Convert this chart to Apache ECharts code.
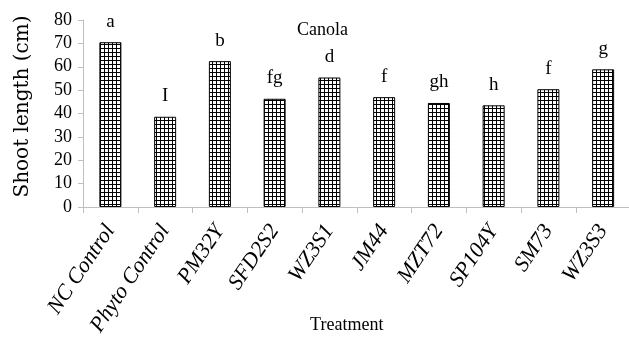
<!DOCTYPE html>
<html>
<head>
<meta charset="utf-8">
<script src="https://cdn.jsdelivr.net/npm/echarts@6/dist/echarts.min.js"></script>
<style>
html,body{margin:0;padding:0;background:#fff;}
#chart{width:629px;height:342px;}
</style>
</head>
<body>
<div id="chart"></div>
<script>
const categories = ['NC Control','Phyto Control','PM32Y','SFD2S2','WZ3S1','JM44','MZT72','SP104Y','SM73','WZ3S3'];
const shootLength = [70.5, 38.6, 62.4, 46.3, 55.4, 47.0, 44.5, 43.5, 50.4, 58.9];
const letters = ['a','I','b','fg','d','f','gh','h','f','g'];
const yTicks = [0,10,20,30,40,50,60,70,80];

function makePattern(){
  const c = document.createElement('canvas');
  c.width = 4; c.height = 4;
  const g = c.getContext('2d');
  g.fillStyle = '#ffffff';
  g.fillRect(0,0,4,4);
  g.fillStyle = '#000000';
  g.fillRect(0,0,1,4);
  g.fillRect(0,0,4,1);
  return c;
}

const serif = 'Liberation Serif';
const chart = echarts.init(document.getElementById('chart'), null, {renderer:'canvas'});
chart.setOption({
  animation: false,
  backgroundColor: '#ffffff',
  title: {
    text: 'Canola',
    left: 297, top: 21, padding: 0,
    textStyle: {fontFamily: serif, fontSize: 18, fontWeight: 'normal', color: '#000'}
  },
  grid: {left: 83, top: 20, width: 547.5, height: 187, containLabel: false, outerBoundsMode: 'none'},
  xAxis: {
    type: 'category',
    data: categories,
    name: 'Treatment',
    nameLocation: 'middle',
    nameGap: 109,
    nameMoveOverlap: false,
    nameTextStyle: {fontFamily: serif, fontSize: 18, color: '#000', padding: [0,20,0,0]},
    axisLine: {show: true, lineStyle: {color: '#bfbfbf', width: 1}},
    axisTick: {show: true, length: 6, interval: 0, lineStyle: {color: '#bfbfbf'}},
    axisLabel: {interval: 0, rotate: 56, margin: 20, fontFamily: serif, fontStyle: 'italic', fontSize: 22, color: '#000'}
  },
  yAxis: {
    type: 'value',
    min: yTicks[0], max: yTicks[yTicks.length-1], interval: 10,
    name: 'Shoot length (cm)',
    nameLocation: 'middle',
    nameGap: 50,
    nameMoveOverlap: false,
    nameTextStyle: {fontFamily: 'DejaVu Serif', fontSize: 20, color: '#000', padding: [0,0,0,14]},
    axisLine: {show: true, lineStyle: {color: '#bfbfbf', width: 1}},
    axisTick: {show: true, length: 5, lineStyle: {color: '#bfbfbf'}},
    axisLabel: {margin: 11, fontFamily: serif, fontSize: 18, color: '#000'},
    splitLine: {show: false}
  },
  series: [{
    type: 'bar',
    data: shootLength,
    barWidth: 22,
    itemStyle: {
      color: {image: makePattern(), repeat: 'repeat'},
      borderColor: '#000', borderWidth: 1
    },
    label: {
      show: true, position: 'top', distance: 11,
      fontFamily: serif, fontSize: 19, color: '#000',
      formatter: p => letters[p.dataIndex]
    }
  }]
});
</script>
</body>
</html>
